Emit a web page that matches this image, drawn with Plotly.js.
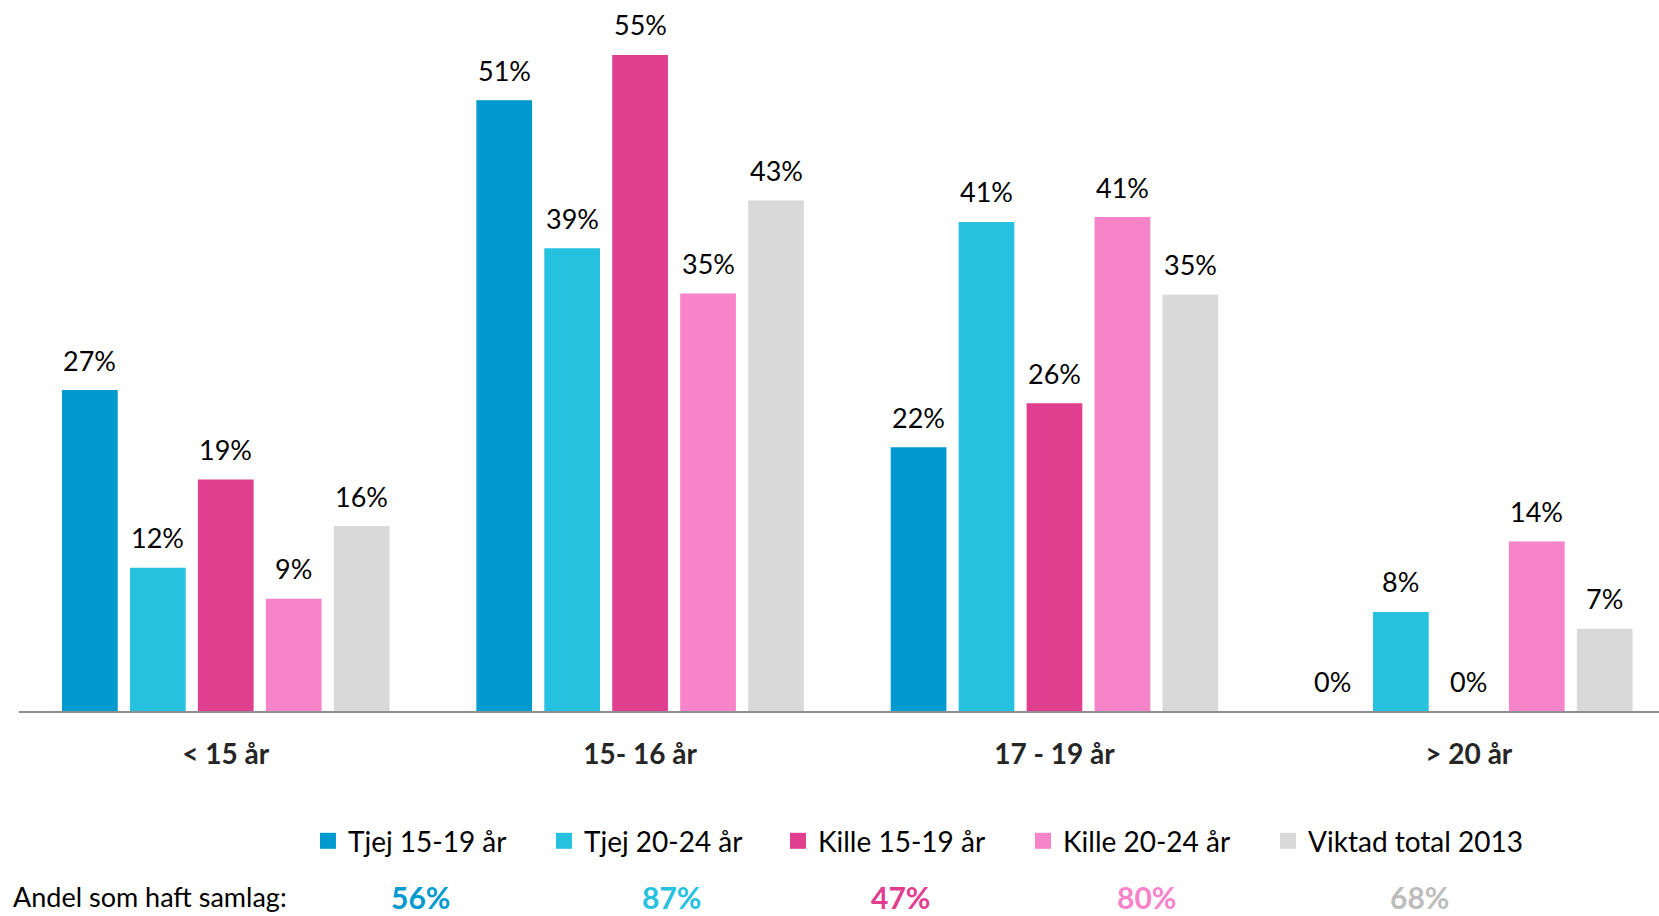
<!DOCTYPE html>
<html>
<head>
<meta charset="utf-8">
<script src="https://cdn.plot.ly/plotly-3.0.1.min.js"></script>
<style>html,body{margin:0;padding:0;background:#fff;}#chart{width:1659px;height:916px;}</style>
</head>
<body>
<div id="chart"></div>
<script>
// ---- data ----
const categories = ['< 15 år', '15- 16 år', '17 - 19 år', '> 20 år'];
const seriesNames = ['Tjej 15-19 år', 'Tjej 20-24 år', 'Kille 15-19 år', 'Kille 20-24 år', 'Viktad total 2013'];
const tjej1519 = [26.9, 51.2, 22.1, 0];
const tjej2024 = [12.0, 38.8, 41.0, 8.3];
const kille1519 = [19.4, 55.0, 25.8, 0];
const kille2024 = [9.4, 35.0, 41.4, 14.2];
const viktad = [15.5, 42.8, 34.9, 6.9];
const andelLabel = 'Andel som haft samlag:';
const andel = [56, 87, 47, 80, 68];

// ---- styles ----
const barColors = ['#0099D0', '#26C1DF', '#E03E8F', '#F783C8', '#D9D9D9'];
const andelColors = ['#0099D0', '#26C1DF', '#E03E8F', '#F783C8', '#BDBDBD'];
const legendX = [0.1762, 0.3201, 0.4628, 0.6122, 0.7616];
const andelX = [0.2451, 0.3976, 0.5372, 0.6878, 0.8537];
const FONT = 'Lato, "Open Sans", sans-serif';
const bargap = 0.18;
const legendNames = ['legend', 'legend2', 'legend3', 'legend4', 'legend5'];

const seriesValues = [tjej1519, tjej2024, kille1519, kille2024, viktad];
const nS = seriesValues.length;
const slot = (1 - bargap) / nS;

const traces = seriesValues.map((vals, i) => ({
  type: 'bar',
  name: seriesNames[i],
  x: categories,
  y: vals,
  marker: { color: barColors[i] },
  showlegend: false,
  hoverinfo: 'skip'
}));

// legend-only entries (no drawn marks), one legend box per series
seriesNames.forEach((nm, i) => {
  traces.push({
    type: 'scatter', mode: 'markers',
    name: nm,
    x: [null], y: [null],
    marker: { symbol: 'square', size: 17, color: barColors[i] },
    legend: legendNames[i],
    showlegend: true,
    hoverinfo: 'skip'
  });
});

const annotations = [];
seriesValues.forEach((vals, i) => {
  vals.forEach((v, j) => {
    annotations.push({
      xref: 'x', yref: 'y',
      x: j + (i - (nS - 1) / 2) * slot,
      y: v,
      yshift: 30,
      yanchor: 'middle', xanchor: 'center',
      text: Math.round(v) + '%',
      showarrow: false,
      font: { family: FONT, size: 27, color: '#000' }
    });
  });
});

annotations.push({
  xref: 'paper', yref: 'paper',
  x: -0.0049, y: -0.2616, xanchor: 'left', yanchor: 'middle',
  text: andelLabel, showarrow: false,
  font: { family: FONT, size: 27, color: '#000' }
});
andel.forEach((v, i) => {
  annotations.push({
    xref: 'paper', yref: 'paper',
    x: andelX[i], y: -0.2616, xanchor: 'center', yanchor: 'middle',
    text: '<b>' + v + '%</b>', showarrow: false,
    font: { family: FONT, size: 30, color: andelColors[i] }
  });
});

const layout = {
  width: 1659, height: 916,
  margin: { l: 19, r: 0, t: 0, b: 205, pad: 0 },
  paper_bgcolor: '#fff', plot_bgcolor: '#fff',
  barmode: 'group',
  bargap: bargap,
  bargroupgap: 0.18,
  showlegend: true,
  xaxis: {
    type: 'category',
    range: [-0.499, 3.459],
    showline: true, linecolor: '#8F8F8F', linewidth: 2,
    ticks: '', showgrid: false, zeroline: false,
    ticklabelstandoff: 17,
    tickfont: { family: FONT, size: 28, color: '#262626', weight: 'bold' },
    fixedrange: true
  },
  yaxis: {
    range: [0, 59.6],
    visible: false, showgrid: false, zeroline: false,
    fixedrange: true
  },
  annotations: annotations
};

legendNames.forEach((ln, i) => {
  layout[ln] = {
    orientation: 'h',
    x: legendX[i], xanchor: 'left',
    y: -0.183, yanchor: 'middle',
    font: { family: FONT, size: 28, color: '#000' },
    bgcolor: 'rgba(0,0,0,0)',
    itemsizing: 'trace'
  };
});

Plotly.newPlot('chart', traces, layout, { displayModeBar: false, staticPlot: true });
</script>
</body>
</html>
